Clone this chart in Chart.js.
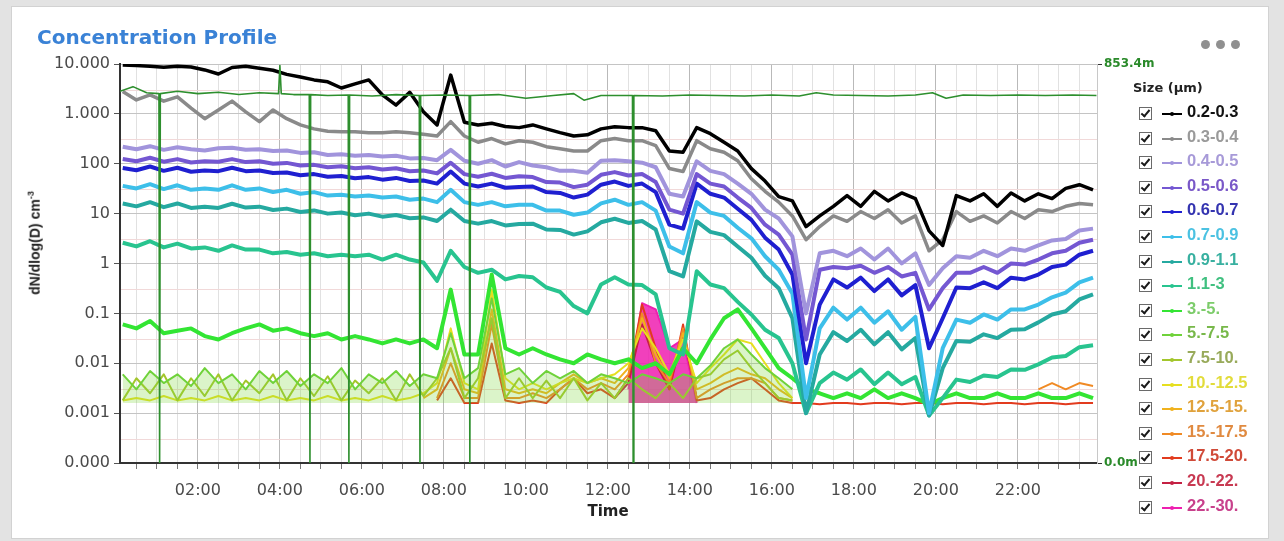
<!DOCTYPE html>
<html>
<head>
<meta charset="utf-8">
<script src="https://cdn.jsdelivr.net/npm/chart.js@4.4.1/dist/chart.umd.min.js"></script>
<style>
  html, body { margin: 0; padding: 0; }
  body { width: 1284px; height: 541px; background: #e3e3e3; position: relative; overflow: hidden; font-family: 'DejaVu Sans', sans-serif; }
  .card { position: absolute; left: 11px; top: 6px; width: 1256px; height: 531px; background: #fff; border: 1px solid #d2d2d2; }
  #c { position: absolute; left: 0; top: 0; }
  .title { position: absolute; left: 37px; top: 25px; font: bold 20px 'DejaVu Sans'; color: #3a82d6; white-space: nowrap; }
  .dots { position: absolute; left: 1201px; top: 34px; }
  .dots i { display: inline-block; width: 9px; height: 9px; border-radius: 50%; background: #909090; margin-right: 6px; }
  .ytitle { position: absolute; left: 34px; top: 243px; transform: translate(-50%, -50%) rotate(-90deg); font: bold 14px 'Liberation Sans'; color: #222; white-space: nowrap; }
  .ytitle sup { font-size: 9px; }
  .xtitle { position: absolute; left: 608px; top: 511px; transform: translate(-50%, -50%); font: bold 15px 'DejaVu Sans'; color: #222; }
  .size-hd { position: absolute; left: 1133px; top: 80px; font: bold 13px 'DejaVu Sans'; color: #222; white-space: nowrap; }
  .lg-row { position: absolute; left: 1139px; height: 24px; width: 130px; }
  .cb { position: absolute; left: 0; top: 5px; width: 11px; height: 11px; border: 1.5px solid #6a6a6a; background: #fff; }
  .cb::after { content: ''; position: absolute; left: 3px; top: 0px; width: 3px; height: 7px; border: solid #1a1a1a; border-width: 0 2px 2px 0; transform: rotate(40deg); }
  .mk { position: absolute; left: 23px; top: 11px; width: 20px; height: 2px; background: currentColor; }
  .mk::after { content: ''; position: absolute; left: 8px; top: -1px; width: 4px; height: 4px; border-radius: 50%; background: currentColor; }
  .lg-txt { position: absolute; left: 48px; top: 0px; font: bold 16.5px 'Liberation Sans'; white-space: nowrap; }
</style>
</head>
<body>
<div class="card"></div>
<canvas id="c" width="1284" height="541"></canvas>
<div class="title">Concentration Profile</div>
<div class="dots"><i></i><i></i><i></i></div>
<div class="ytitle">dN/dlog(D) cm<sup>-3</sup></div>
<div class="xtitle">Time</div>
<div class="size-hd">Size (µm)</div>
<div id="legend"></div>
<script>
// ── Datos (muestras cada 20 min) ─────────────────────────────
const _ = null;
const TIME_LABELS = ['00:10','00:30','00:50','01:10','01:30','01:50','02:10','02:30','02:50','03:10','03:30','03:50',
  '04:10','04:30','04:50','05:10','05:30','05:50','06:10','06:30','06:50','07:10','07:30','07:50',
  '08:10','08:30','08:50','09:10','09:30','09:50','10:10','10:30','10:50','11:10','11:30','11:50',
  '12:10','12:30','12:50','13:10','13:30','13:50','14:10','14:30','14:50','15:10','15:30','15:50',
  '16:10','16:30','16:50','17:10','17:30','17:50','18:10','18:30','18:50','19:10','19:30','19:50',
  '20:10','20:30','20:50','21:10','21:30','21:50','22:10','22:30','22:50','23:10','23:30','23:50'];

const X_TICK_LABELS = ['02:00','04:00','06:00','08:00','10:00','12:00','14:00','16:00','18:00','20:00','22:00'];
const Y_DECADES = [1e-4, 1e-3, 1e-2, 1e-1, 1, 10, 100, 1000, 10000];
const Y_MINOR = [3e-4, 3e-3, 3e-2, 3e-1, 3, 30, 300, 3000];
const Y_TICK_LABELS = ['0.000','0.001','0.01','0.1','1','10','100','1.000','10.000'];
const ALT_TICK_LABELS = ['0.0m', '853.4m'];

const SIZE_BINS = ['0.2-0.3','0.3-0.4','0.4-0.5','0.5-0.6','0.6-0.7','0.7-0.9','0.9-1.1','1.1-3','3.-5.','5.-7.5',
  '7.5-10.','10.-12.5','12.5-15.','15.-17.5','17.5-20.','20.-22.','22.-30.'];
const LINE_COLORS = ['#000000','#8a8a8a','#a194dc','#7457d2','#1f1fd0','#3dbfe9','#25a9a0','#28c48f','#33e533','#6fd23a',
  '#a3c62c','#e6df1f','#f0b21e','#f08a24','#e23b1e','#c42043','#ee1fb0'];
const TEXT_COLORS = ['#111111','#9a9a9a','#a79ad8','#7a58c8','#3434b0','#4cc2e2','#38b0a0','#40c080','#7ccc6a','#78b84a',
  '#98aa5a','#e2dc3a','#e0a23c','#e08a40','#d04a38','#c83a52','#c8408c'];
// relleno bajo las series de partículas gruesas (nube de puntos densa en el original)
const FILL_COLORS = { 9: 'rgba(125,215,60,0.28)', 16: 'rgba(238,31,176,0.85)' };

const d02_03 = [9500,9300,9000,8600,9000,8700,7600,6300,8500,9000,8200,7500,6200,5500,4800,4400,3300,4000,4800,2400,1500,2700,1100,600,
  6000,680,600,650,560,530,600,500,420,360,380,500,550,530,530,460,180,170,530,400,270,180,80,45,22,18,
  5.5,9,14,23,14,28,18,26,20,4.5,2.3,23,18,25,14,26,18,25,20,32,38,30];
const d03_04 = [2800,1900,2400,1800,2200,1300,800,1200,1800,1100,700,1200,800,600,500,450,440,440,420,420,440,420,390,360,
  700,360,270,320,250,290,270,220,200,180,180,290,320,290,290,230,80,70,290,200,170,115,50,28,17,9,
  3,5.5,9,7,11,8,12,6.5,9,1.8,3,11,7,9,6.5,11,8,12,11,14,16,15];
const d04_05 = [220,195,225,190,215,195,185,205,210,190,195,180,185,165,170,150,155,145,150,140,145,128,130,118,
  190,115,100,118,88,108,92,85,72,72,66,115,118,112,105,85,25,22,112,72,62,40,25,12,8,3.5,
  0.1,1.6,1.8,1.4,2.0,1.2,2.0,1.0,1.6,0.37,0.8,1.4,1.3,1.8,1.4,2.0,1.8,2.3,2.9,3.1,4.6,5.0];
const d05_06 = [125,112,132,110,124,106,112,110,124,108,112,100,104,92,95,85,89,81,85,77,81,71,73,64,
  105,62,55,63,52,56,54,43,42,34,38,60,68,58,62,43,12,10,62,40,35,21,13,6,3.8,1.5,
  0.03,0.75,0.85,0.8,0.9,0.65,0.85,0.55,0.65,0.12,0.32,0.65,0.65,0.85,0.65,1.0,0.95,1.2,1.6,1.8,2.6,3.0];
const d06_07 = [82,74,88,72,83,69,73,71,83,71,73,65,67,59,62,55,57,51,54,48,52,45,46,40,
  70,40,35,40,33,34,35,27,26,21,24,38,44,36,40,27,6,5,40,25,21,12.5,7.5,3.3,1.9,0.6,
  0.01,0.15,0.48,0.33,0.52,0.28,0.48,0.23,0.37,0.02,0.08,0.33,0.32,0.42,0.32,0.52,0.48,0.6,0.85,0.95,1.5,1.8];
const d07_09 = [36,32,39,31,37,30,32,30,37,30,32,27,30,25,27,23,24,22,23,21,22,19,20,17,
  30,17,15,17,14,15,15,11.5,11.5,9.5,10.5,16,19,15,17,11.5,2.2,1.6,17,10.5,9,5.2,3.2,1.4,0.75,0.25,
  0.002,0.05,0.13,0.075,0.13,0.065,0.11,0.047,0.085,0.001,0.02,0.075,0.065,0.095,0.075,0.12,0.12,0.15,0.21,0.26,0.42,0.52];
const d09_11 = [16,14,17,13.5,16,13,13.8,13,15.8,13.2,13.8,11.8,12.6,10.8,11.6,10,10.5,9.3,10,8.7,9.4,8.1,8.4,7.1,
  12,7.1,6.3,7.1,5.8,6.2,6.3,4.8,4.7,3.8,4.4,6.7,7.9,6.5,7.1,4.8,0.7,0.55,7,4.3,3.7,2.2,1.3,0.57,0.32,0.08,
  0.001,0.015,0.042,0.028,0.047,0.024,0.042,0.019,0.032,0.0009,0.008,0.028,0.027,0.038,0.032,0.047,0.048,0.066,0.095,0.11,0.19,0.24];
const d11_3 = [2.6,2.2,2.8,2.1,2.5,2.0,2.1,1.8,2.3,1.9,1.9,1.6,1.7,1.5,1.6,1.4,1.5,1.4,1.5,1.2,1.5,1.2,1.05,0.45,
  1.8,0.85,0.65,0.75,0.48,0.56,0.53,0.33,0.27,0.14,0.1,0.38,0.53,0.38,0.37,0.24,0.02,0.015,0.7,0.38,0.32,0.17,0.095,0.047,0.032,0.01,
  0.001,0.004,0.0065,0.0047,0.0075,0.0038,0.0065,0.0038,0.0053,0.0009,0.002,0.0047,0.0042,0.0057,0.0053,0.0075,0.0074,0.0095,0.013,0.014,0.021,0.023];
const d3_5 = [0.06,0.05,0.07,0.04,0.045,0.05,0.035,0.03,0.04,0.05,0.06,0.045,0.05,0.04,0.035,0.04,0.03,0.035,0.03,0.025,0.03,0.025,0.03,0.02,
  0.3,0.015,0.015,0.6,0.02,0.015,0.02,0.015,0.012,0.01,0.015,0.012,0.01,0.012,0.008,0.01,0.006,0.02,0.01,0.03,0.08,0.12,0.05,0.02,0.008,0.005,
  0.003,0.0025,0.002,0.0025,0.002,0.003,0.002,0.0025,0.002,0.0015,0.002,0.0025,0.002,0.002,0.0025,0.002,0.002,0.0025,0.002,0.002,0.0025,0.002];
const d5_75 = [0.006,0.003,0.007,0.004,0.006,0.0035,0.008,0.004,0.006,0.003,0.007,0.004,0.007,0.0035,0.006,0.004,0.008,0.003,0.006,0.004,0.007,0.0035,0.006,0.005,
  0.04,0.005,0.008,0.2,0.006,0.008,0.004,0.007,0.005,0.007,0.004,0.006,0.005,0.004,0.006,0.005,0.004,0.006,0.005,0.009,0.02,0.03,0.015,0.008,0.005,0.003,
  _,_,_,_,_,_,_,_,_,_,_,_,_,_,_,_,_,_,_,_,_,_];
const d75_10 = [0.0018,0.005,0.0025,0.006,0.0018,0.005,0.0022,0.006,0.0018,0.0045,0.0025,0.006,0.0018,0.005,0.0022,0.0055,0.0018,0.0045,0.0025,0.005,0.0018,0.006,0.0022,0.005,
  0.02,0.002,0.005,0.08,0.002,0.005,0.002,0.0045,0.002,0.005,0.0018,0.004,0.002,0.005,0.003,0.002,0.004,0.002,0.005,0.006,0.012,0.018,0.008,0.004,0.002,0.0018,
  _,_,_,_,_,_,_,_,_,_,_,_,_,_,_,_,_,_,_,_,_,_];
const d10_125 = [0.0018,0.002,0.0018,0.0022,0.0018,0.002,0.0018,0.0022,0.0018,0.002,0.0018,0.0022,0.0018,0.002,0.0018,0.0022,0.0018,0.002,0.0018,0.0022,0.0018,0.002,0.0025,
  0.004,0.05,0.004,0.003,0.3,0.005,0.003,0.004,0.003,0.004,0.005,0.004,0.005,0.006,0.01,0.05,0.02,0.006,0.03,0.004,0.008,0.015,0.03,0.025,0.01,0.004,0.002,
  _,_,_,_,_,_,_,_,_,_,_,_,_,_,_,_,_,_,_,_,_,_];
const d125_15 = [_,_,_,_,_,_,_,_,_,_,_,_,_,_,_,_,_,_,_,_,_,_,
  0.002,0.003,0.02,0.003,0.0025,0.12,0.003,0.0025,0.003,0.0025,0.004,0.006,0.004,0.005,0.004,0.008,0.08,0.015,0.005,0.04,0.003,0.004,0.006,0.008,0.006,0.005,0.003,0.002,
  _,_,_,_,_,_,_,_,_,_,_,_,_,_,_,_,_,_,_,_,_,_];
const d15_175 = [_,_,_,_,_,_,_,_,_,_,_,_,_,_,_,_,_,_,_,_,_,_,_,
  0.002,0.01,0.002,0.002,0.06,0.002,0.002,0.0025,0.002,0.003,0.005,0.003,0.004,0.003,0.006,0.1,0.01,0.004,0.05,0.002,0.003,0.004,0.005,0.005,0.004,0.002,0.0018,
  _,_,_,_,_,_,_,_,_,_,_,_,_,_,_,_,_,0.003,0.004,0.003,0.004,0.0035];
const d175_20 = [_,_,_,_,_,_,_,_,_,_,_,_,_,_,_,_,_,_,_,_,_,_,_,
  0.0018,0.005,0.0016,0.0016,0.025,0.0018,0.0016,0.0018,0.0016,0.003,0.005,0.0025,0.003,0.002,0.005,0.15,0.02,0.003,0.06,0.0018,0.002,0.003,0.004,0.005,0.003,0.0018,0.0016,
  0.0016,0.0015,0.0016,0.0016,0.0015,0.0016,0.0016,0.0015,0.0016,0.0016,0.0015,0.0016,0.0016,0.0015,0.0016,0.0016,0.0015,0.0016,0.0016,0.0015,0.0016,0.0016];
const d20_22 = [_,_,_,_,_,_,_,_,_,_,_,_,_,_,_,_,_,_,_,_,_,_,_,_,_,_,_,_,_,_,_,_,_,_,_,_,
  0.002,0.004,0.06,0.01,0.003,0.04,0.002,
  _,_,_,_,_,_,_,_,_,_,_,_,_,_,_,_,_,_,_,_,_,_,_,_,_,_,_,_,_];
const d22_30 = [_,_,_,_,_,_,_,_,_,_,_,_,_,_,_,_,_,_,_,_,_,_,_,_,_,_,_,_,_,_,_,_,_,_,_,_,_,
  0.003,0.16,0.12,0.02,0.03,0.0016,
  _,_,_,_,_,_,_,_,_,_,_,_,_,_,_,_,_,_,_,_,_,_,_,_,_,_,_,_,_];

// Altitud (eje derecho, m): las caídas a 0 son las líneas verticales verdes
const ALT_TIMES = ['00:06','00:25','00:45','01:03','01:04','01:05','01:30','02:00','02:30','03:00','03:30','03:58','04:00','04:02',
  '04:20','04:43','04:44','04:45','05:10','05:40','05:41','05:42','06:15','06:50','07:24','07:25','07:26','08:00','08:37','08:38',
  '08:39','09:20','10:00','10:40','11:10','11:25','11:50','12:36','12:37','12:38','13:20','14:00','14:40','15:20','16:00','16:40',
  '17:05','17:30','18:10','18:50','19:30','19:55','20:15','20:40','21:20','22:00','22:40','23:20','23:55'];
const ALT_M = [795,805,792,790,0,790,795,790,793,788,792,790,850,790,788,788,0,788,786,787,0,787,785,788,786,0,786,787,786,0,
  786,788,780,786,790,776,786,786,0,786,785,787,786,785,787,785,792,787,786,785,787,792,780,787,786,787,786,787,786];

const SERIES = [d02_03, d03_04, d04_05, d05_06, d06_07, d07_09, d09_11, d11_3, d3_5, d5_75,
  d75_10, d10_125, d125_15, d15_175, d175_20, d20_22, d22_30];

// ── Helpers ──────────────────────────────────────────────────
const hrs = s => { const [h, m] = s.split(':'); return +h + m / 60; };
const TX = TIME_LABELS.map(hrs);
const isDecade = v => Y_DECADES.some(d => Math.abs(d - v) / d < 1e-6);

// ── Leyenda (HTML) ───────────────────────────────────────────
document.getElementById('legend').innerHTML = SIZE_BINS.map((lbl, i) =>
  `<div class="lg-row" style="top:${(102 + i * 24.6).toFixed(1)}px">
    <span class="cb"></span>
    <span class="mk" style="color:${LINE_COLORS[i]}"></span>
    <span class="lg-txt" style="color:${TEXT_COLORS[i]}">${lbl}</span>
  </div>`).join('');

// ── Datasets ─────────────────────────────────────────────────
const datasets = [{
  label: 'Altitude', yAxisID: 'y2',
  data: ALT_TIMES.map((t, i) => ({ x: hrs(t), y: ALT_M[i] })),
  borderColor: '#2e8f2e', borderWidth: 1.6
}].concat(SERIES.map((arr, i) => ({
  label: SIZE_BINS[i], yAxisID: 'y',
  data: arr.map((v, j) => ({ x: TX[j], y: v })),
  borderColor: LINE_COLORS[i],
  borderWidth: i < 2 ? 3.5 : i < 9 ? 4 : 2,
  fill: FILL_COLORS[i] ? { value: 0.0016 } : false,
  backgroundColor: FILL_COLORS[i] || 'transparent'
})));

const tickFont = { family: 'DejaVu Sans', size: 16 };

new Chart(document.getElementById('c').getContext('2d'), {
  type: 'line',
  data: { datasets },
  options: {
    responsive: false, animation: false, devicePixelRatio: 1,
    layout: { padding: { top: 64, left: 0, right: 0, bottom: 0 } },
    elements: { point: { radius: 0 }, line: { tension: 0, borderJoinStyle: 'round' } },
    spanGaps: false,
    plugins: { legend: { display: false }, tooltip: { enabled: false } },
    scales: {
      x: {
        type: 'linear', min: 0.1, max: 23.93,
        afterBuildTicks: s => {
          const t = [];
          for (let h = 0.5; h < 24; h += 0.5) t.push({ value: h });
          s.ticks = t;
        },
        afterFit: s => { s.height = 78; },
        grid: {
          color: c => (c.tick && c.tick.value % 2 === 0) ? '#b9b9b9' : '#e1e1e1',
          tickColor: '#777', tickLength: 6
        },
        border: { color: '#333', width: 2 },
        ticks: {
          autoSkip: false, maxRotation: 0, padding: 12, color: '#4a4a4a', font: tickFont,
          callback: v => (v % 2 === 0 && v > 0) ? X_TICK_LABELS[v / 2 - 1] : ''
        }
      },
      y: {
        type: 'logarithmic', min: 1e-4, max: 1e4,
        afterBuildTicks: s => {
          s.ticks = Y_DECADES.concat(Y_MINOR).sort((a, b) => a - b).map(v => ({ value: v }));
        },
        afterFit: s => { s.width = 120; },
        grid: {
          color: c => (c.tick && isDecade(c.tick.value)) ? '#c4c4c4' : '#f1d9d9',
          tickColor: c => (c.tick && isDecade(c.tick.value)) ? '#555' : 'rgba(0,0,0,0)',
          tickLength: 6
        },
        border: { color: '#333', width: 2 },
        ticks: {
          autoSkip: false, padding: 4, color: '#4a4a4a', font: tickFont,
          callback: v => isDecade(v) ? Y_TICK_LABELS[Y_DECADES.findIndex(d => Math.abs(d - v) / d < 1e-6)] : ''
        }
      },
      y2: {
        type: 'linear', position: 'right', min: 0, max: 853.4,
        afterBuildTicks: s => { s.ticks = [{ value: 0 }, { value: 853.4 }]; },
        afterFit: s => { s.width = 187; },
        grid: { drawOnChartArea: false, tickColor: '#333', tickLength: 5 },
        border: { color: '#c8c8c8', width: 1 },
        ticks: {
          padding: 2, color: '#2a8a2a', font: { family: 'DejaVu Sans', size: 12, weight: 'bold' },
          callback: v => v === 0 ? ALT_TICK_LABELS[0] : ALT_TICK_LABELS[1]
        }
      }
    }
  }
});
</script>
</body>
</html>
